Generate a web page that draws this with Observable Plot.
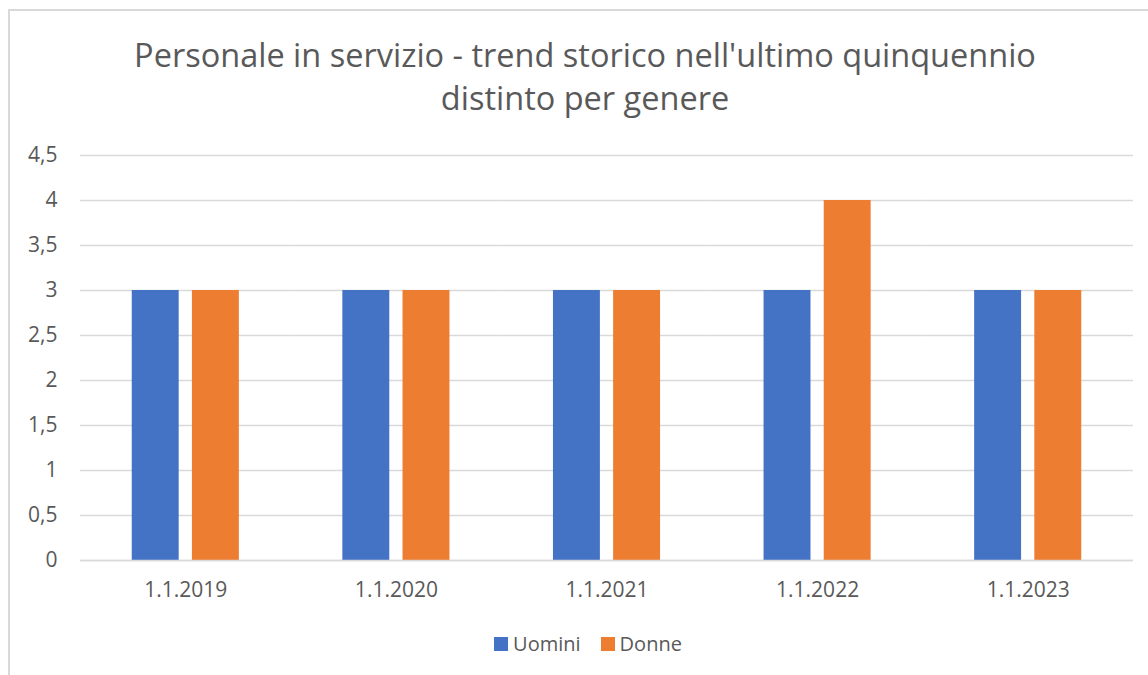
<!DOCTYPE html>
<html>
<head>
<meta charset="utf-8">
<script src="https://cdn.jsdelivr.net/npm/d3@7"></script>
<script src="https://cdn.jsdelivr.net/npm/@observablehq/plot@0.6"></script>
<style>
  html, body { margin: 0; padding: 0; background: #fff; }
  #wrap { position: relative; width: 1148px; height: 675px; overflow: hidden; font-family: "Open Sans", Lato, sans-serif; color: #595959; }
  #frame { position: absolute; left: 8px; top: 9px; width: 1200px; height: 700px; border-left: 2px solid #d9d9d9; border-top: 2px solid #d9d9d9; }
  #title { position: absolute; left: 0; width: 1170px; top: 33px; text-align: center; font-size: 32.5px; line-height: 43px; color: #595959; }
  #chart { position: absolute; left: 0; top: 130px; }
  #legend { position: absolute; top: 630px; left: 0; width: 1176px; display: flex; justify-content: center; gap: 20px; font-size: 20px; line-height: 28px; color: #595959; }
  .item { display: flex; align-items: center; gap: 5px; }
  .sw { width: 14px; height: 14px; display: inline-block; }
</style>
</head>
<body>
<div id="wrap">
  <div id="frame"></div>
  <div id="title">Personale in servizio - trend storico nell'ultimo quinquennio<br>distinto per genere</div>
  <div id="chart"></div>
  <div id="legend"></div>
</div>
<script>
const dates = ["1.1.2019", "1.1.2020", "1.1.2021", "1.1.2022", "1.1.2023"];
const series = ["Uomini", "Donne"];
const uomini = [3, 3, 3, 3, 3];
const donne = [3, 3, 3, 4, 3];
const colors = ["#4472C4", "#ED7D31"];
const yTicks = [0, 0.5, 1, 1.5, 2, 2.5, 3, 3.5, 4, 4.5];

const table = [];
dates.forEach((d, i) => {
  table.push({date: d, series: "Uomini", value: uomini[i]});
  table.push({date: d, series: "Donne", value: donne[i]});
});

const fmt = v => String(v).replace(".", ",");

const chart = Plot.plot({
  width: 1148,
  height: 480,
  marginLeft: 80,
  marginRight: 15,
  marginTop: 25,
  marginBottom: 50,
  style: {fontFamily: "'Open Sans', Lato, sans-serif", fontSize: "21px", color: "#595959", background: "transparent"},
  fx: {domain: dates, padding: 0, round: false, label: null, axis: null},
  x: {domain: series, paddingInner: 0.22, paddingOuter: 0.86, round: false, axis: null},
  y: {domain: [0, 4.5], label: null, axis: null},
  color: {domain: series, range: colors},
  marks: [
    Plot.gridY(yTicks, {stroke: "#d9d9d9", strokeOpacity: 1, strokeWidth: 1.5}),
    Plot.barY(table, {fx: "date", x: "series", y: "value", fill: "series"}),
    Plot.ruleY([0], {stroke: "#d9d9d9", strokeWidth: 1.5}),
    Plot.axisY(yTicks, {tickSize: 0, tickPadding: 23, tickFormat: fmt, fontSize: 21, fill: "#595959", label: null}),
    Plot.axisFx({anchor: "bottom", tickSize: 0, tickPadding: 22, fontSize: 21, fill: "#595959", label: null})
  ]
});
document.getElementById("chart").appendChild(chart);

const legend = document.getElementById("legend");
series.forEach((s, i) => {
  const it = document.createElement("div");
  it.className = "item";
  const sw = document.createElement("span");
  sw.className = "sw";
  sw.style.background = colors[i];
  const t = document.createElement("span");
  t.textContent = s;
  it.appendChild(sw);
  it.appendChild(t);
  legend.appendChild(it);
});
</script>
</body>
</html>
